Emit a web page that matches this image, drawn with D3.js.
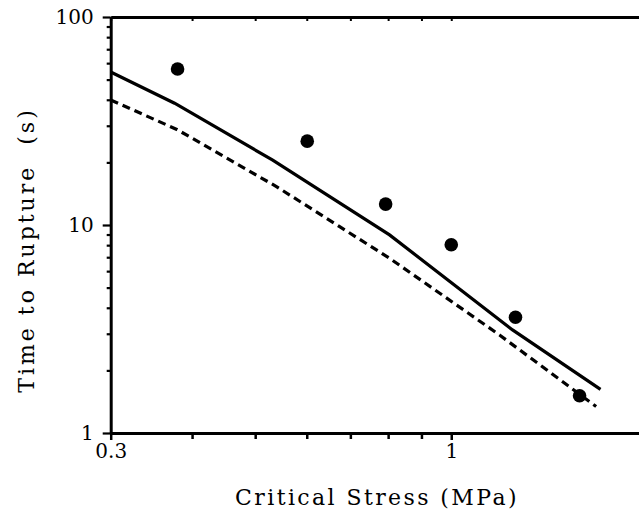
<!DOCTYPE html>
<html><head><meta charset="utf-8">
<script src="https://cdn.jsdelivr.net/npm/d3@7"></script>
<style>
html,body{margin:0;padding:0;background:#fff;overflow:hidden}
svg{display:block}
text{font-family:"DejaVu Serif",serif;fill:#000}
</style></head>
<body>
<svg id="chart" width="639" height="514"></svg>
<script>
// Data
const pointStress = [0.380, 0.601, 0.793, 1.0, 1.255, 1.574];
const pointTime   = [56.2, 25.3, 12.6, 8.04, 3.6, 1.51];

const solidStress = [0.3, 0.376, 0.532, 0.804, 1.242, 1.695];
const solidTime   = [54.4, 38.5, 20.5, 8.96, 3.13, 1.62];

const dashStress = [0.3, 0.379, 0.539, 0.674, 0.804, 1.186, 1.669];
const dashTime   = [39.9, 28.8, 15.3, 9.82, 6.92, 2.96, 1.34];

const xTickValues = [0.3,0.4,0.5,0.6,0.7,0.8,0.9,1,2,3];
const xTickLabels = {0.3:"0.3", 1:"1"};
const yTickValues = [1,2,3,4,5,6,7,8,9,10,20,30,40,50,60,70,80,90,100];
const yTickLabels = {1:"1", 10:"10", 100:"100"};

const xTitle = "Critical Stress (MPa)";
const yTitle = "Time to Rupture\u00a0\u00a0(s)";

const svg = d3.select("#chart");
const x = d3.scaleLog().domain([0.3, 3]).range([110.7, 762]);
const y = d3.scaleLog().domain([1, 100]).range([433, 17]);

// bottom axis
const gBottom = svg.append("g").attr("transform", `translate(0,${y(1)})`)
  .call(d3.axisBottom(x).tickValues(xTickValues)
    .tickFormat(d => xTickLabels[d] || "")
    .tickSizeInner(6).tickSizeOuter(0).tickPadding(5));
gBottom.selectAll(".tick line").attr("stroke-width", 2.5)
  .attr("y1", d => xTickLabels[d] ? -1 : 0).attr("y2", d => xTickLabels[d] ? 7 : 6);
gBottom.selectAll(".tick text").style("font-size", "20px").style("font-family", '"DejaVu Serif",serif');
gBottom.select(".domain").attr("stroke-width", 3);

// top axis
const gTop = svg.append("g").attr("transform", `translate(0,${y(100)})`)
  .call(d3.axisTop(x).tickValues(xTickValues).tickFormat("")
    .tickSizeInner(-4).tickSizeOuter(0));
gTop.selectAll(".tick line").attr("stroke-width", 2);
gTop.select(".domain").attr("stroke-width", 3);

// left axis
const gLeft = svg.append("g").attr("transform", `translate(${x(0.3)},0)`)
  .call(d3.axisLeft(y).tickValues(yTickValues)
    .tickFormat(d => yTickLabels[d] || "")
    .tickSizeInner(4).tickSizeOuter(0).tickPadding(13));
gLeft.selectAll(".tick line").attr("stroke-width", 2.2)
  .attr("x2", d => yTickLabels[d] ? -8 : -4);
gLeft.selectAll(".tick text").style("font-size", "20px").style("font-family", '"DejaVu Serif",serif');
gLeft.select(".domain").attr("stroke-width", 3);

// lines
const line = d3.line().x(d => x(d[0])).y(d => y(d[1]));
svg.append("path").datum(d3.zip(solidStress, solidTime))
  .attr("d", line).attr("fill", "none").attr("stroke", "#000").attr("stroke-width", 3.2);
svg.append("path").datum(d3.zip(dashStress, dashTime))
  .attr("d", line).attr("fill", "none").attr("stroke", "#000").attr("stroke-width", 3.2)
  .attr("stroke-dasharray", "8,5");

// points
svg.append("g").selectAll("circle").data(d3.zip(pointStress, pointTime)).join("circle")
  .attr("cx", d => x(d[0])).attr("cy", d => y(d[1])).attr("r", 6.8).attr("fill", "#000");

// titles
svg.append("text").attr("x", 377).attr("y", 505).attr("text-anchor", "middle")
  .style("font-size", "22px").style("letter-spacing", "2.4px").text(xTitle);
svg.append("text").attr("transform", "translate(34,250) rotate(-90)").attr("text-anchor", "middle")
  .style("font-size", "22px").style("letter-spacing", "3px").text(yTitle);
</script>
</body></html>
